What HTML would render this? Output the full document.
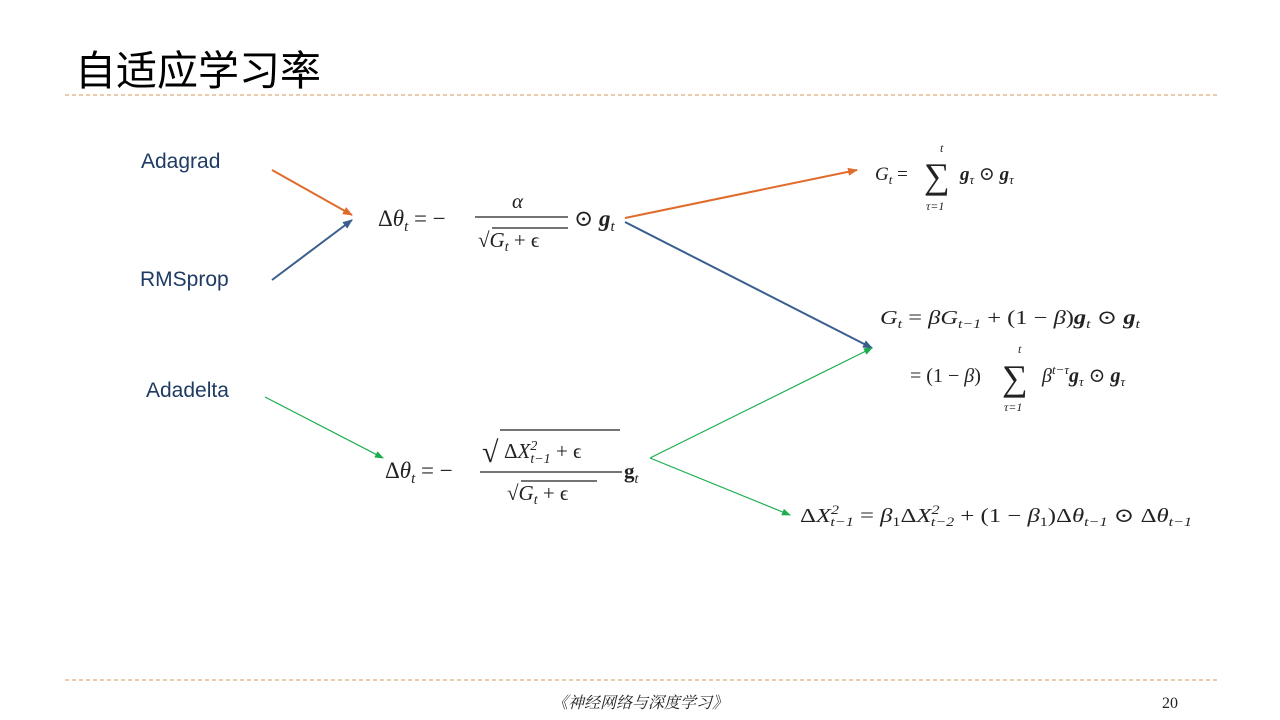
<!DOCTYPE html>
<html><head><meta charset="utf-8"><style>
body{margin:0;width:1280px;height:720px;background:#fff;overflow:hidden;position:relative;font-family:"Liberation Serif",serif}
.t{position:absolute;left:75px;top:37px;font:41px "Liberation Sans","Noto Sans CJK SC",sans-serif;color:#000}
.l{position:absolute;font:21px "Liberation Sans",sans-serif;color:#1f3b63}
svg{position:absolute;left:0;top:0}
svg text{font-family:"Liberation Serif","DejaVu Serif",serif;fill:#222}
</style></head><body>
<div class="t">自适应学习率</div>
<div class="l" style="left:141px;top:150px">Adagrad</div>
<div class="l" style="left:140px;top:268px">RMSprop</div>
<div class="l" style="left:146px;top:379px">Adadelta</div>
<svg width="1280" height="720">
<defs>
<marker id="ao" markerUnits="userSpaceOnUse" markerWidth="10" markerHeight="8" refX="9" refY="4" orient="auto"><path d="M0,0L10,4L0,8z" fill="#e06c2c"/></marker>
<marker id="ab" markerUnits="userSpaceOnUse" markerWidth="10" markerHeight="8" refX="9" refY="4" orient="auto"><path d="M0,0L10,4L0,8z" fill="#3a5f8f"/></marker>
<marker id="ag" markerUnits="userSpaceOnUse" markerWidth="9" markerHeight="7" refX="8" refY="3.5" orient="auto"><path d="M0,0L9,3.5L0,7z" fill="#1aad4c"/></marker>
</defs>
<line x1="65" y1="95" x2="1218" y2="95" stroke="#d9955a" stroke-dasharray="4,3"/>
<line x1="65" y1="680" x2="1218" y2="680" stroke="#d9955a" stroke-dasharray="4,3"/>
<g stroke-width="2" fill="none">
<line x1="272" y1="170" x2="352" y2="215" stroke="#e06c2c" marker-end="url(#ao)"/>
<line x1="625" y1="218" x2="857" y2="170" stroke="#e06c2c" marker-end="url(#ao)"/>
<line x1="272" y1="280" x2="352" y2="220" stroke="#3a5f8f" marker-end="url(#ab)"/>
<line x1="625" y1="222" x2="872" y2="348" stroke="#3a5f8f" marker-end="url(#ab)"/>
</g>
<g stroke-width="1.2" fill="none" stroke="#1aad4c">
<line x1="265" y1="397" x2="383" y2="458" marker-end="url(#ag)"/>
<line x1="650" y1="458" x2="872" y2="348" marker-end="url(#ag)"/>
<line x1="650" y1="458" x2="790" y2="515" marker-end="url(#ag)"/>
</g>
<!-- eq1 -->
<text x="378" y="226" font-size="23">Δ<tspan font-style="italic">θ</tspan><tspan font-size="15" font-style="italic" dy="5">t</tspan><tspan dy="-5"> = −</tspan></text>
<text x="512" y="208" font-size="21" font-style="italic">α</text>
<line x1="475" y1="217" x2="568" y2="217" stroke="#222" stroke-width="1.3"/>
<text x="478" y="247" font-size="21">√<tspan font-style="italic">G</tspan><tspan font-size="14" font-style="italic" dy="4">t</tspan><tspan dy="-4"> + ϵ</tspan></text>
<line x1="492" y1="228" x2="568" y2="228" stroke="#222" stroke-width="1.2"/>
<text x="574" y="226" font-size="23">⊙ <tspan font-weight="bold" font-style="italic">g</tspan><tspan font-size="15" font-style="italic" dy="5">t</tspan></text>
<!-- Gt adagrad -->
<text x="875" y="180" font-size="19" font-style="italic">G<tspan font-size="13" dy="4">t</tspan><tspan dy="-4" font-style="normal"> = </tspan></text>
<text x="924" y="188" font-size="36">∑</text>
<text x="940" y="152" font-size="12" font-style="italic">t</text>
<text x="926" y="210" font-size="12" font-style="italic">τ=1</text>
<text x="960" y="180" font-size="19" font-style="italic" font-weight="bold">g<tspan font-size="13" font-weight="normal" dy="4">τ</tspan><tspan dy="-4" font-weight="normal" font-style="normal"> ⊙ </tspan>g<tspan font-size="13" font-weight="normal" dy="4">τ</tspan></text>
<!-- RMSprop -->
<text x="880" y="324" font-size="20" font-style="italic" textLength="260" lengthAdjust="spacingAndGlyphs">G<tspan font-size="13" dy="4">t</tspan><tspan dy="-4" font-style="normal"> = </tspan>βG<tspan font-size="13" dy="4">t−1</tspan><tspan dy="-4" font-style="normal"> + (1 − </tspan>β<tspan font-style="normal">)</tspan><tspan font-weight="bold">g</tspan><tspan font-size="13" dy="4">t</tspan><tspan dy="-4" font-style="normal"> ⊙ </tspan><tspan font-weight="bold">g</tspan><tspan font-size="13" dy="4">t</tspan></text>
<text x="910" y="382" font-size="20">= (1 − <tspan font-style="italic">β</tspan>)</text>
<text x="1002" y="390" font-size="36">∑</text>
<text x="1018" y="353" font-size="12" font-style="italic">t</text>
<text x="1004" y="411" font-size="12" font-style="italic">τ=1</text>
<text x="1042" y="382" font-size="20" font-style="italic">β<tspan font-size="13" dy="-8">t−τ</tspan><tspan dy="8" font-weight="bold">g</tspan><tspan font-size="13" dy="4">τ</tspan><tspan dy="-4" font-style="normal"> ⊙ </tspan><tspan font-weight="bold">g</tspan><tspan font-size="13" dy="4">τ</tspan></text>
<!-- Adadelta eq -->
<text x="385" y="478" font-size="23">Δ<tspan font-style="italic">θ</tspan><tspan font-size="15" font-style="italic" dy="5">t</tspan><tspan dy="-5"> = −</tspan></text>
<text x="482" y="462" font-size="30">√</text>
<line x1="500" y1="430" x2="620" y2="430" stroke="#222" stroke-width="1.2"/>
<text x="504" y="458" font-size="21">Δ<tspan font-style="italic">X</tspan><tspan font-size="14" font-style="italic" dy="-8">2</tspan><tspan font-size="14" font-style="italic" dx="-7" dy="13">t−1</tspan><tspan dy="-5"> + ϵ</tspan></text>
<line x1="480" y1="472" x2="622" y2="472" stroke="#222" stroke-width="1.3"/>
<text x="507" y="500" font-size="21">√<tspan font-style="italic">G</tspan><tspan font-size="14" font-style="italic" dy="4">t</tspan><tspan dy="-4"> + ϵ</tspan></text>
<line x1="521" y1="481" x2="597" y2="481" stroke="#222" stroke-width="1.2"/>
<text x="624" y="478" font-size="21" font-weight="bold">g<tspan font-size="14" font-weight="normal" font-style="italic" dy="5">t</tspan></text>
<!-- DX eq -->
<text x="800" y="522" font-size="20" textLength="392" lengthAdjust="spacingAndGlyphs">Δ<tspan font-style="italic">X</tspan><tspan font-size="13" font-style="italic" dy="-8">2</tspan><tspan font-size="13" font-style="italic" dx="-7" dy="12">t−1</tspan><tspan dy="-4"> = </tspan><tspan font-style="italic">β</tspan><tspan font-size="13" dy="4">1</tspan><tspan dy="-4">Δ</tspan><tspan font-style="italic">X</tspan><tspan font-size="13" font-style="italic" dy="-8">2</tspan><tspan font-size="13" font-style="italic" dx="-7" dy="12">t−2</tspan><tspan dy="-4"> + (1 − </tspan><tspan font-style="italic">β</tspan><tspan font-size="13" dy="4">1</tspan><tspan dy="-4">)Δ</tspan><tspan font-style="italic">θ</tspan><tspan font-size="13" font-style="italic" dy="4">t−1</tspan><tspan dy="-4"> ⊙ Δ</tspan><tspan font-style="italic">θ</tspan><tspan font-size="13" font-style="italic" dy="4">t−1</tspan></text>
<text x="640" y="708" font-size="16" text-anchor="middle" font-style="italic" style="font-family:'Noto Serif CJK SC','Liberation Serif',serif" fill="#555">《神经网络与深度学习》</text>
<text x="1170" y="708" font-size="16" text-anchor="middle" fill="#555">20</text>
</svg>
</body></html>
